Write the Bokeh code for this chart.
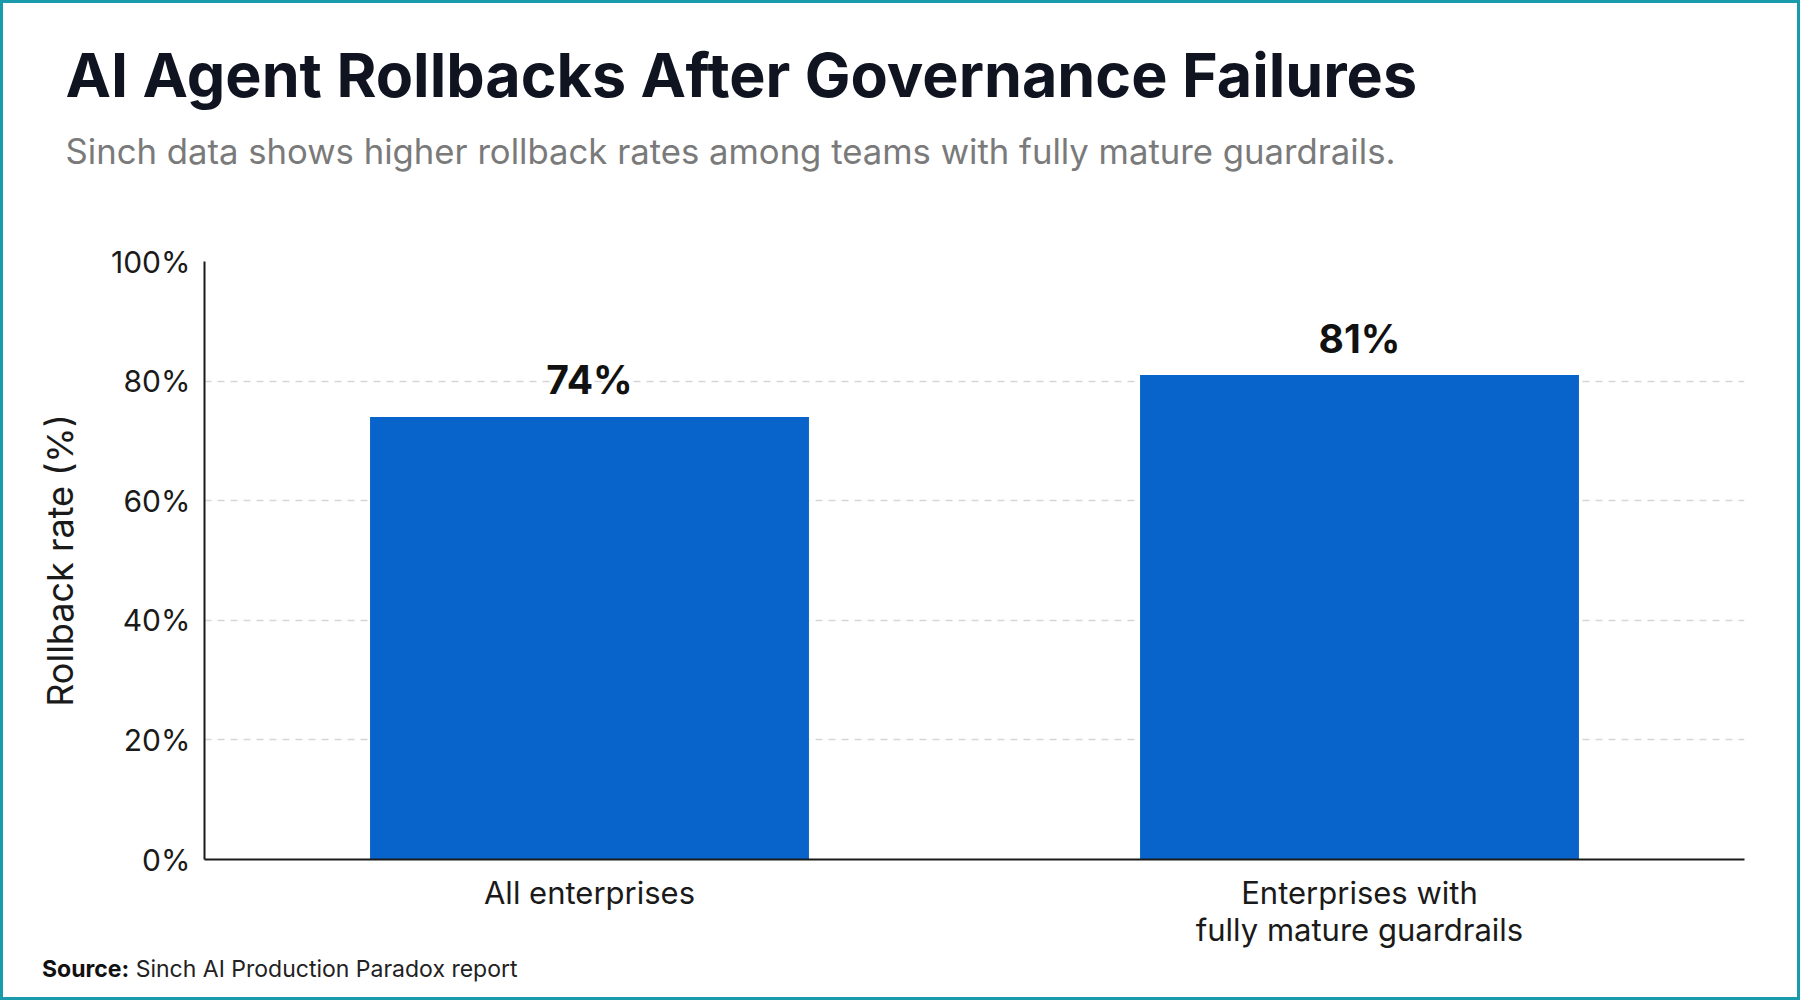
from bokeh.plotting import figure
from bokeh.layouts import column
from bokeh.models import FixedTicker, PrintfTickFormatter, ColumnDataSource, Title, Div
from bokeh.core.properties import value
from bokeh.embed import file_html
from bokeh.resources import INLINE

categories = ["All enterprises", "Enterprises with\nfully mature guardrails"]
rates = [74, 81]
rate_labels = ["74%", "81%"]
y_ticks = [0, 20, 40, 60, 80, 100]

title_text = "AI Agent Rollbacks After Governance Failures"
subtitle_text = "Sinch data shows higher rollback rates among teams with fully mature guardrails."
source_bold = "Source:"
source_text = "Sinch AI Production Paradox report"
y_label = "Rollback rate (%)"

FONT = "Inter"
BAR = "#0863ca"
W, H = 1794, 947

p = figure(x_range=categories, y_range=(0, 100), width=W, height=H,
           output_backend="svg", toolbar_location=None, title=None,
           min_border_left=201, min_border_right=53, min_border_top=258,
           min_border_bottom=91, background_fill_color="white",
           border_fill_color="white", outline_line_color=None)

src = ColumnDataSource(dict(x=categories, top=rates, lab=rate_labels))
p.vbar(x="x", top="top", width=0.57, source=src, fill_color=BAR, line_color=None)
p.text(x="x", y="top", text="lab", source=src, text_align="center",
       text_baseline="alphabetic", y_offset=-37, text_font=value(FONT),
       text_font_style="bold", text_font_size="39px", text_color="#111111")

p.xgrid.grid_line_color = None
p.ygrid.grid_line_color = "#d6d6d6"
p.ygrid.grid_line_dash = "7 6"
p.ygrid.grid_line_width = 1.5
p.ygrid.ticker = FixedTicker(ticks=y_ticks)

p.yaxis.ticker = FixedTicker(ticks=y_ticks)
p.yaxis.formatter = PrintfTickFormatter(format="%d%%")
for ax in (p.xaxis[0], p.yaxis[0]):
    ax.axis_line_color = "#1a1a1a"
    ax.axis_line_width = 2
    ax.major_tick_line_color = None
    ax.minor_tick_line_color = None
    ax.major_label_text_font = FONT
    ax.major_label_text_color = "#1a1a1a"
p.yaxis.major_label_standoff = 8
p.yaxis.major_label_text_font_size = "30px"
p.xaxis.major_label_text_font_size = "31px"
p.xaxis.major_label_text_line_height = 1.0
p.xaxis.major_label_standoff = 8
p.yaxis.axis_label = y_label
p.yaxis.axis_label_text_font = FONT
p.yaxis.axis_label_text_font_size = "36px"
p.yaxis.axis_label_text_font_style = "normal"
p.yaxis.axis_label_text_color = "#1a1a1a"
p.yaxis.axis_label_standoff = 26

# above panels, innermost first: spacer, subtitle, title
p.add_layout(Title(text=" ", align="left", standoff=59, text_font=FONT,
                   text_font_size="20px", text_color="white"), "above")
p.add_layout(Title(text=subtitle_text, align="left", offset=-139, standoff=10,
                   text_font=FONT, text_font_size="34.7px", text_font_style="normal",
                   text_color="#7a7a7a"), "above")
p.add_layout(Title(text=title_text, align="left", offset=-139, standoff=22,
                   text_font=FONT, text_font_size="61px", text_font_style="bold",
                   text_color="#0f1420"), "above")

footer = Div(
    text=(f'<div style="padding:8px 0 0 39px; font-family:Inter; font-size:23px; '
          f'line-height:1; color:#222222; white-space:nowrap;">'
          f'<b style="color:#111111;">{source_bold}</b> {source_text}</div>'),
    width=W, height=47, margin=0, styles={"background-color": "white"})

layout = column(p, footer, spacing=0, margin=0,
                styles={"border": "3px solid #1a9bab", "background-color": "white"})

open("out.html", "w").write(file_html(layout, INLINE))
